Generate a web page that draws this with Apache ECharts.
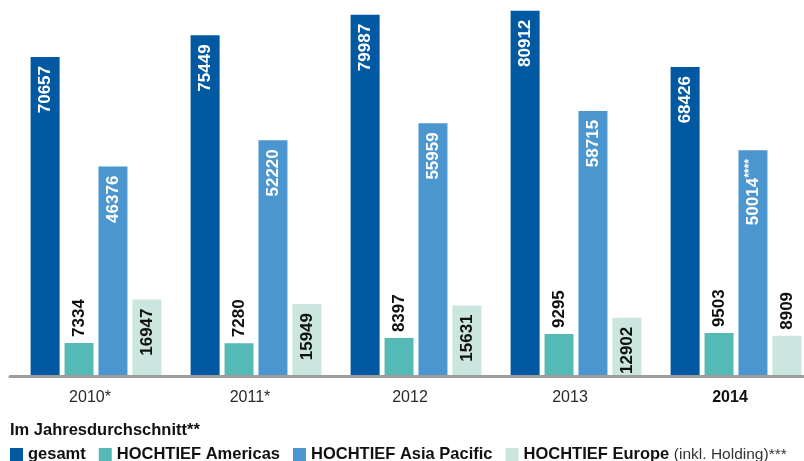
<!DOCTYPE html>
<html>
<head>
<meta charset="utf-8">
<script src="https://cdn.jsdelivr.net/npm/echarts@6/dist/echarts.min.js"></script>
<style>
  html, body { margin: 0; padding: 0; background: #ffffff; }
  #chart { width: 804px; height: 461px; }
</style>
</head>
<body>
<div id="chart"></div>
<script>
// ---- data ----
var years = ['2010*', '2011*', '2012', '2013', '2014'];
var seriesNames = ['gesamt', 'HOCHTIEF Americas', 'HOCHTIEF Asia Pacific', 'HOCHTIEF Europe'];
var gesamt = [70657, 75449, 79987, 80912, 68426];
var americas = [7334, 7280, 8397, 9295, 9503];
var asiaPacific = [46376, 52220, 55959, 58715, 50014];
var europe = [16947, 15949, 15631, 12902, 8909];
var asiaSuffix = ['', '', '', '', '****'];
var legendTitle = 'Im Jahresdurchschnitt**';
var europeNote = '(inkl. Holding)***';
var boldYear = '2014';

var colors = ['#0059A1', '#55BAB5', '#4C96CF', '#CBE6DF'];
var FONT = '"Liberation Sans", Arial, Helvetica, sans-serif';
var YMAX = 83280;
var LEG = 16.5;

var insideLabel = function (color) {
  return {
    show: true, position: 'insideTop', rotate: 90, align: 'right', verticalAlign: 'middle',
    distance: 9, color: color, fontFamily: FONT, fontWeight: 'bold', fontSize: 17
  };
};
var outsideLabel = {
  show: true, position: 'top', rotate: 90, align: 'left', verticalAlign: 'middle',
  distance: 6, color: '#111', fontFamily: FONT, fontWeight: 'bold', fontSize: 17
};

var chart = echarts.init(document.getElementById('chart'), null, { renderer: 'canvas' });

var europeData = europe.map(function (v) {
  return v < 10000 ? { value: v, label: outsideLabel } : { value: v };
});
var asiaData = asiaPacific.map(function (v, i) {
  return { value: v, suffix: asiaSuffix[i] };
});

var option = {
  animation: false,
  backgroundColor: '#ffffff',
  color: colors,
  title: {
    text: legendTitle, left: 10, top: 422, padding: 0,
    textStyle: { fontFamily: FONT, fontWeight: 'bold', fontSize: LEG, color: '#111' }
  },
  legend: {
    left: 10, top: 446, padding: 0,
    icon: 'rect', itemWidth: 13, itemHeight: 13, itemGap: 13,
    data: seriesNames,
    formatter: function (name) {
      if (name === seriesNames[3]) return '{b|' + name + '} {n|' + europeNote + '}';
      return '{b|' + name + '}';
    },
    textStyle: {
      fontFamily: FONT, fontSize: LEG, color: '#111',
      rich: {
        b: { fontFamily: FONT, fontWeight: 'bold', fontSize: LEG, color: '#111' },
        n: { fontFamily: FONT, fontWeight: 'normal', fontSize: 15.5, color: '#333' }
      }
    }
  },
  grid: [
    { left: 16, width: 800, top: 0, bottom: 85, outerBoundsMode: 'none', containLabel: false },
    { left: 10, width: 800, top: 0, bottom: 84.5, outerBoundsMode: 'none', containLabel: false }
  ],
  xAxis: [
    {
      type: 'category', gridIndex: 0, data: years,
      axisLine: { show: false }, axisTick: { show: false }, axisLabel: { show: false }
    },
    {
      type: 'category', gridIndex: 1, data: years, z: 10,
      axisLine: { show: true, lineStyle: { color: '#9c9c9c', width: 3 } },
      axisTick: { show: false },
      axisLabel: {
        margin: 13, fontFamily: FONT, fontSize: 16, color: '#2a2a2a',
        formatter: function (v) { return v === boldYear ? '{b|' + v + '}' : v; },
        rich: { b: { fontFamily: FONT, fontSize: 16, fontWeight: 'bold', color: '#111' } }
      }
    }
  ],
  yAxis: [
    { type: 'value', gridIndex: 0, min: 0, max: YMAX, show: false },
    { type: 'value', gridIndex: 1, min: 0, max: 1, show: false }
  ],
  series: [
    {
      name: seriesNames[0], type: 'bar', xAxisIndex: 0, yAxisIndex: 0,
      data: gesamt, barWidth: 29, barGap: '17%', label: insideLabel('#ffffff')
    },
    {
      name: seriesNames[1], type: 'bar', xAxisIndex: 0, yAxisIndex: 0,
      data: americas, barWidth: 29, barGap: '17%', label: outsideLabel
    },
    {
      name: seriesNames[2], type: 'bar', xAxisIndex: 0, yAxisIndex: 0,
      data: asiaData, barWidth: 29, barGap: '17%',
      label: Object.assign(insideLabel('#ffffff'), {
        formatter: function (p) {
          var s = p.data.suffix;
          return '{a|' + p.value + '}' + (s ? '{s|' + s + '}' : '');
        },
        rich: {
          a: { fontFamily: FONT, fontWeight: 'bold', fontSize: 17, color: '#ffffff' },
          s: { fontFamily: FONT, fontWeight: 'bold', fontSize: 12, color: '#ffffff', verticalAlign: 'top', padding: [0, 0, 6, 0] }
        }
      })
    },
    {
      name: seriesNames[3], type: 'bar', xAxisIndex: 0, yAxisIndex: 0,
      data: europeData, barWidth: 29, barGap: '17%', label: insideLabel('#111111')
    }
  ]
};
chart.setOption(option);
</script>
</body>
</html>
